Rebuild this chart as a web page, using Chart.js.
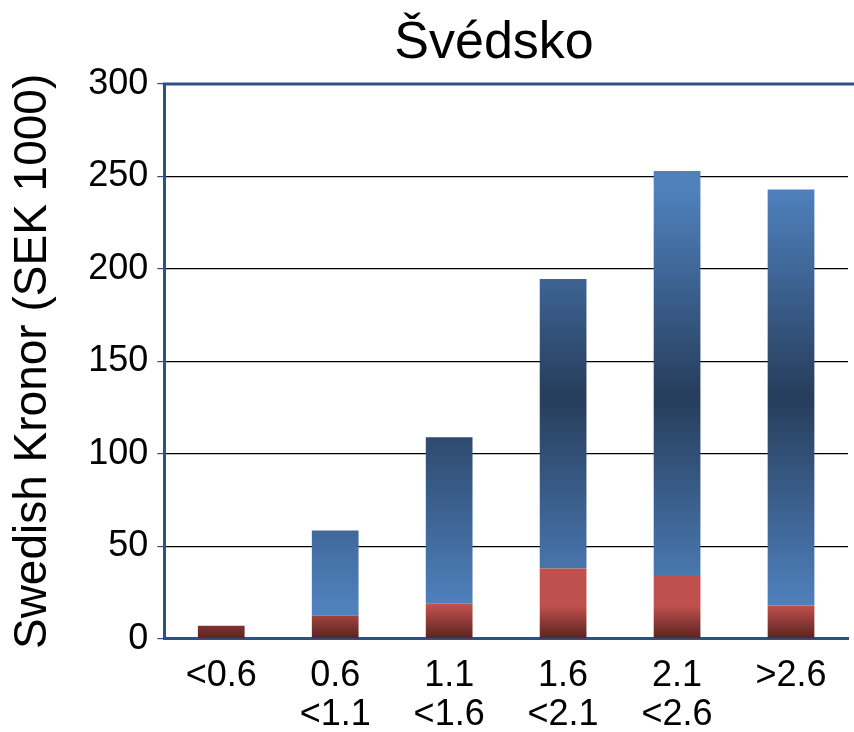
<!DOCTYPE html>
<html>
<head>
<meta charset="utf-8">
<title>Švédsko</title>
<script src="https://cdn.jsdelivr.net/npm/chart.js@4/dist/chart.umd.min.js"></script>
<style>
    html, body { margin: 0; padding: 0; background: #fff; }
    #wrap { width: 854px; height: 732px; position: relative; }
</style>
</head>
<body>
<div id="wrap"><canvas id="chart"></canvas></div>
<script>
// Data
const chartTitle = 'Švédsko';
const categories = [['<0.6'], ['0.6', '<1.1'], ['1.1', '<1.6'], ['1.6', '<2.1'], ['2.1', '<2.6'], ['>2.6']];
const lowerPart = [7, 12.5, 19, 38, 34.5, 18];
const upperPart = [0, 46, 90, 156.5, 218.5, 225];
const yTicks = [0, 50, 100, 150, 200, 250, 300];

const FONT = '"Liberation Sans", Arial, sans-serif';
const FRAME = '#2c5188';

// Paint every bar with a vertical gradient from its own top to its base
const gradientBars = {
    id: 'gradientBars',
    beforeDatasetsDraw(chart) {
        const ctx = chart.ctx;
        chart.data.datasets.forEach((ds, i) => {
            const meta = chart.getDatasetMeta(i);
            meta.data.forEach(bar => {
                const top = Math.min(bar.y, bar.base);
                const bottom = Math.max(bar.y, bar.base);
                if (bottom - top < 1) return;
                const g = ctx.createLinearGradient(0, top, 0, bottom);
                if (ds.label === 'lower') {
                    g.addColorStop(0, '#c0504d');
                    g.addColorStop(1, '#5a2321');
                } else {
                    g.addColorStop(0, '#4f81bd');
                    g.addColorStop(0.5, '#263d5b');
                    g.addColorStop(1, '#4f81bd');
                }
                bar.options.backgroundColor = g;
            });
        });
    }
};

// Blue frame on top and title text
const frameAndTitle = {
    id: 'frameAndTitle',
    afterDraw(chart) {
        const ctx = chart.ctx;
        const a = chart.chartArea;
        ctx.save();
        ctx.strokeStyle = FRAME;
        ctx.lineWidth = 3;
        ctx.beginPath();
        ctx.moveTo(a.left - 1.5, a.top);
        ctx.lineTo(chart.width, a.top);
        ctx.stroke();
        ctx.fillStyle = '#000';
        ctx.font = '52px ' + FONT;
        ctx.textAlign = 'center';
        ctx.textBaseline = 'middle';
        ctx.fillText(chartTitle, 494, 44);
        ctx.restore();
    }
};

new Chart(document.getElementById('chart'), {
    type: 'bar',
    data: {
        labels: categories,
        datasets: [
            { label: 'lower', data: lowerPart, backgroundColor: '#a8433f' },
            { label: 'upper', data: upperPart, backgroundColor: '#3a5f8f' }
        ]
    },
    options: {
        responsive: true,
        maintainAspectRatio: false,
        animation: false,
        layout: { padding: { top: 84, right: 6, left: 6, bottom: -12 } },
        plugins: {
            legend: { display: false },
            tooltip: { enabled: false },
            title: { display: false }
        },
        datasets: {
            bar: { categoryPercentage: 1, barPercentage: 0.41 }
        },
        scales: {
            x: {
                stacked: true,
                grid: { display: false },
                border: { color: FRAME, width: 3 },
                ticks: {
                    color: '#000',
                    font: { family: FONT, size: 36, lineHeight: 1.1 },
                    padding: 9,
                    maxRotation: 0
                }
            },
            y: {
                stacked: true,
                min: 0,
                max: 300,
                afterBuildTicks(axis) {
                    axis.ticks = yTicks.map(v => ({ value: v }));
                },
                grid: {
                    color: c => (c.tick && (c.tick.value === 0 || c.tick.value === 300)) ? 'rgba(0,0,0,0)' : '#000',
                    lineWidth: 1.2,
                    tickLength: 7,
                    tickColor: FRAME
                },
                border: { color: FRAME, width: 3 },
                ticks: {
                    color: '#000',
                    font: { family: FONT, size: 36 },
                    padding: 9
                },
                title: {
                    display: true,
                    text: 'Swedish Kronor (SEK 1000)',
                    color: '#000',
                    font: { family: FONT, size: 46 },
                    padding: { top: 0, bottom: 18 }
                }
            }
        }
    },
    plugins: [gradientBars, frameAndTitle]
});
</script>
</body>
</html>
